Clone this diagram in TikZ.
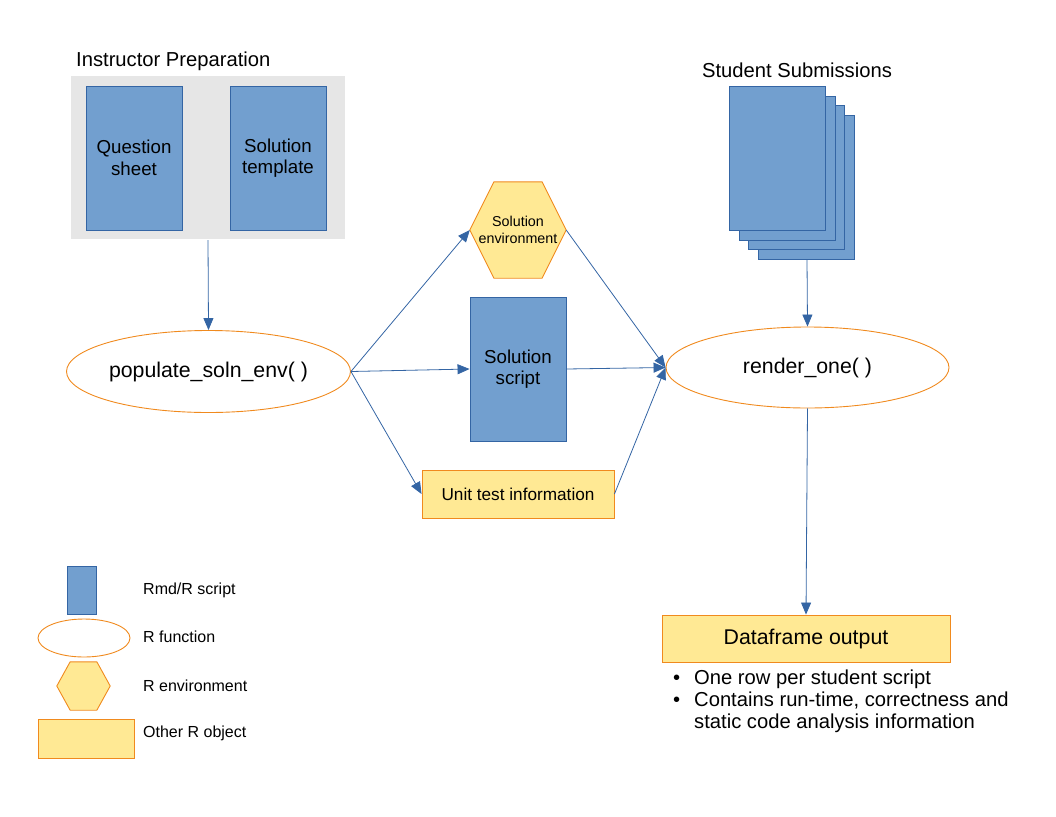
\documentclass[tikz,border=0pt]{standalone}
\usepackage{fontspec}
\setmainfont{Liberation Sans}
\usetikzlibrary{arrows.meta,shapes.geometric,calc}
\definecolor{bfill}{HTML}{729FCF}
\definecolor{bline}{HTML}{3465A4}
\definecolor{yfill}{HTML}{FFE994}
\definecolor{oline}{HTML}{F08A1E}
\definecolor{gfill}{HTML}{E6E6E6}
\tikzset{
  doc/.style={draw=bline, fill=bfill, line width=0.9pt, minimum width=96pt, minimum height=144pt, inner sep=0pt, align=center, font=\fontsize{18.7}{21.5}\selectfont},
  func/.style={ellipse, draw=oline, line width=0.9pt, inner sep=0pt, font=\fontsize{21.3}{24}\selectfont},
  obj/.style={draw=oline, fill=yfill, line width=0.9pt, inner sep=0pt, align=center},
  hexbox/.style={minimum width=96pt, minimum height=96pt, inner sep=0pt, align=center},
  conn/.style={draw=bline, line width=0.8pt, -{Triangle[length=12pt,width=10pt]}},
  lbl/.style={anchor=west, inner sep=0pt, font=\fontsize{16}{19}\selectfont},
}
\newcommand{\hexpath}[1]{%
  \path[draw=oline, fill=yfill, line width=0.9pt]
    (#1.west) -- ($(#1.north west)!0.25!(#1.north east)$) -- ($(#1.north west)!0.75!(#1.north east)$)
    -- (#1.east) -- ($(#1.south west)!0.75!(#1.south east)$) -- ($(#1.south west)!0.25!(#1.south east)$) -- cycle;}
\begin{document}
\begin{tikzpicture}[x=1pt,y=-1pt]
\useasboundingbox (0,0) rectangle (1056,816);
% Instructor preparation
\node[fill=gfill, minimum width=274pt, minimum height=163pt, inner sep=0pt] (prep) at (208,157.5) {};
\node[anchor=west, inner sep=0pt, font=\fontsize{20.2}{23}\selectfont] (preptitle) at (76,61) {Instructor Preparation};
\node[doc] (qs) at (134,158) {Question\\sheet};
\node[doc] (st) at (278,158) {Solution\\template};
% populate
\node[func, minimum width=284pt, minimum height=82pt] (pop) at (208.5,371.5) {populate\_soln\_env( )};
% solution environment
\node[hexbox] (hex) at (518,230) {};
\hexpath{hex}
\node[font=\fontsize{14.3}{16.5}\selectfont, align=center, inner sep=0pt] (hextext) at (518,230) {Solution\\environment};
% solution script
\node[doc] (script) at (518,369) {Solution\\script};
% unit test
\node[obj, minimum width=192pt, minimum height=48pt, font=\fontsize{17.2}{20}\selectfont] (ut) at (518,494) {Unit test information};
% render one
\node[func, minimum width=283pt, minimum height=81pt] (render) at (807.5,367.5) {render\_one( )};
% student submissions
\node[font=\fontsize{20.2}{23}\selectfont, inner sep=0pt] (stutitle) at (797,70) {Student Submissions};
\node[doc] (s4) at (806.5,187) {};
\node[doc] (s3) at (796.5,177.5) {};
\node[doc] (s2) at (787,168) {};
\node[doc] (s1) at (777,158) {};
% dataframe
\node[obj, minimum width=288pt, minimum height=47pt, font=\fontsize{21.3}{24}\selectfont] (df) at (806,638.5) {Dataframe output};
\node[anchor=north west, inner sep=0pt, font=\fontsize{20.2}{22}\selectfont, align=left] (bul) at (670,669)
  {\begin{tabular}{@{}p{24pt}@{}l@{}}\hspace{3pt}\textbullet & One row per student script\\
   \hspace{3pt}\textbullet & Contains run-time, correctness and\\
   & static code analysis information\end{tabular}};
% connectors
\coordinate (prepbot) at (208,240);
\coordinate (stubot) at (807,260);
\draw[conn] (prepbot) -- (pop.north);
\draw[conn] (pop.east) -- (hex.west);
\draw[conn] (pop.east) -- (script.west);
\draw[conn] (pop.east) -- (ut.west);
\draw[conn] (hex.east) -- (render.west);
\draw[conn] (script.east) -- (render.west);
\draw[conn] (ut.east) -- (render.west);
\draw[conn] (stubot) -- (render.north);
\draw[conn] (render.south) -- (df.north);
% legend
\node[draw=bline, fill=bfill, line width=0.9pt, minimum width=29pt, minimum height=48pt, inner sep=0pt] (lg1) at (81.5,590) {};
\node[ellipse, draw=oline, line width=0.9pt, minimum width=92pt, minimum height=38pt, inner sep=0pt] (lg2) at (84,638) {};
\node[minimum width=53pt, minimum height=48pt, inner sep=0pt] (lg3) at (83.5,686) {};
\hexpath{lg3}
\node[obj, minimum width=96pt, minimum height=39pt] (lg4) at (86,738.5) {};
\node[lbl] (lt1) at (143,590) {Rmd/R script};
\node[lbl] (lt2) at (143,637) {R function};
\node[lbl] (lt3) at (143,686) {R environment};
\node[lbl] (lt4) at (143,733) {Other R object};
\end{tikzpicture}
\end{document}
